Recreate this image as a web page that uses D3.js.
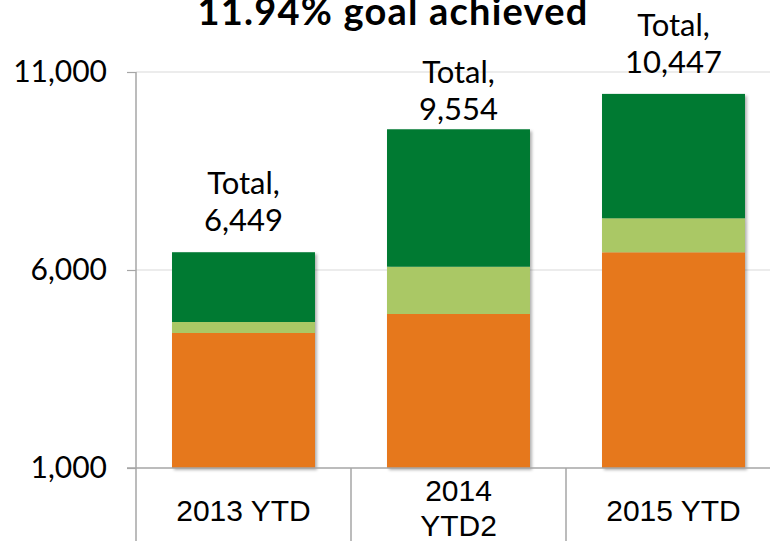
<!DOCTYPE html>
<html>
<head>
<meta charset="utf-8">
<script src="https://cdn.jsdelivr.net/npm/d3@7"></script>
<style>
  body { margin: 0; background: #fff; }
  svg { display: block; }
</style>
</head>
<body>
<div id="chart"></div>
<script>
// chart values
const categories = ["2013 YTD", "2014 YTD2", "2015 YTD"];
const categoryLines = [["2013 YTD"], ["2014", "YTD2"], ["2015 YTD"]];
const seriesNames = ["orange", "lightGreen", "darkGreen"];
const orangeValues = [4409, 4889, 6447];
const lightGreenValues = [278, 1194, 859];
const darkGreenValues = [1762, 3471, 3141];
const totals = [6449, 9554, 10447];
const yTicks = [1000, 6000, 11000];
const title = "11.94% goal achieved";

const colors = { orange: "#e6781f", lightGreen: "#aac865", darkGreen: "#007a33" };

const width = 770, height = 541;
const margin = { top: 72, right: -11, bottom: 73, left: 136 };

const svg = d3.select("#chart").append("svg")
    .attr("width", width)
    .attr("height", height);

// soft shadow like the original bars
const defs = svg.append("defs");
defs.append("filter")
    .attr("id", "shadow")
    .attr("x", "-10%").attr("y", "-10%")
    .attr("width", "130%").attr("height", "130%")
    .append("feDropShadow")
    .attr("dx", 2).attr("dy", 2)
    .attr("stdDeviation", 1.8)
    .attr("flood-color", "#000")
    .attr("flood-opacity", 0.3);

const x = d3.scaleBand()
    .domain(categories)
    .range([margin.left, width - margin.right])
    .paddingInner(0.335)
    .paddingOuter(0.1675);

const y = d3.scaleLinear()
    .domain([1000, 11000])
    .range([height - margin.bottom, margin.top]);

// gridlines
svg.append("g")
    .selectAll("line")
    .data(yTicks.filter(t => t > 1000))
    .enter().append("line")
    .attr("x1", margin.left)
    .attr("x2", width)
    .attr("y1", d => y(d))
    .attr("y2", d => y(d))
    .attr("stroke", "#d9d9d9")
    .attr("stroke-width", 1.2);

// y axis
const yAxis = d3.axisLeft(y)
    .tickValues(yTicks)
    .tickSize(9)
    .tickPadding(20)
    .tickFormat(d3.format(","));

const yg = svg.append("g")
    .attr("transform", "translate(" + margin.left + ",0)")
    .call(yAxis);
yg.select(".domain").remove();
yg.selectAll(".tick line").attr("stroke", "#a6a6a6").attr("stroke-width", 1.2);
yg.selectAll("text")
    .attr("fill", "#000")
    .style("font-family", "Lato, sans-serif")
    .style("font-size", "30px");

// stacked bars
const table = categories.map((c, i) => ({
    category: c,
    orange: orangeValues[i],
    lightGreen: lightGreenValues[i],
    darkGreen: darkGreenValues[i]
}));
const stacked = d3.stack().keys(seriesNames)(table);

const barGroups = svg.append("g")
    .selectAll("g")
    .data(categories)
    .enter().append("g")
    .attr("filter", "url(#shadow)");

barGroups.each(function(cat, i) {
    const g = d3.select(this);
    stacked.forEach(layer => {
        const d = layer[i];
        const y0 = Math.max(d[0], y.domain()[0]);
        g.append("rect")
            .attr("x", x(cat))
            .attr("width", x.bandwidth())
            .attr("y", y(d[1]))
            .attr("height", y(y0) - y(d[1]))
            .attr("fill", colors[layer.key]);
    });
});

// axes lines drawn over bars
svg.append("line")
    .attr("x1", margin.left - 9).attr("x2", width)
    .attr("y1", y(1000)).attr("y2", y(1000))
    .attr("stroke", "#a6a6a6").attr("stroke-width", 1.5);

svg.append("line")
    .attr("x1", margin.left).attr("x2", margin.left)
    .attr("y1", y(11000)).attr("y2", height)
    .attr("stroke", "#a6a6a6").attr("stroke-width", 1.5);

// category separators below the axis
const boundaries = d3.range(1, categories.length + 1)
    .map(i => margin.left + i * x.step());
svg.append("g")
    .selectAll("line")
    .data(boundaries)
    .enter().append("line")
    .attr("x1", d => d).attr("x2", d => d)
    .attr("y1", y(1000)).attr("y2", height)
    .attr("stroke", "#a6a6a6").attr("stroke-width", 1.5);

// category labels
const catLabels = svg.append("g")
    .selectAll("text")
    .data(categories)
    .enter().append("text")
    .attr("x", d => x(d) + x.bandwidth() / 2)
    .attr("y", (d, i) => categoryLines[i].length > 1 ? 501 : 521)
    .attr("text-anchor", "middle")
    .style("font-family", "'Liberation Sans', Arial, sans-serif")
    .style("font-size", "30px")
    .attr("fill", "#000");

catLabels.each(function(d, i) {
    const t = d3.select(this);
    categoryLines[i].forEach((line, j) => {
        t.append("tspan")
            .attr("x", x(d) + x.bandwidth() / 2)
            .attr("dy", j === 0 ? 0 : 35)
            .text(line);
    });
});

// total labels (2014 label sits a little lower in the original)
const labelNudge = { "2014 YTD2": 12 };
const totalLabels = svg.append("g")
    .selectAll("text")
    .data(categories)
    .enter().append("text")
    .attr("text-anchor", "middle")
    .attr("x", d => x(d) + x.bandwidth() / 2)
    .attr("y", (d, i) => y(totals[i]) - 21 + (labelNudge[d] || 0))
    .style("font-family", "Lato, sans-serif")
    .style("font-size", "31px")
    .attr("fill", "#000");

totalLabels.append("tspan")
    .attr("x", d => x(d) + x.bandwidth() / 2)
    .attr("dy", -37)
    .text("Total,");
totalLabels.append("tspan")
    .attr("x", d => x(d) + x.bandwidth() / 2)
    .attr("dy", 37)
    .text((d, i) => d3.format(",")(totals[i]));

// title (cut at the top edge, as in the original)
svg.append("text")
    .attr("x", 393)
    .attr("y", 25)
    .attr("text-anchor", "middle")
    .style("font-family", "Lato, sans-serif")
    .style("font-weight", "bold")
    .style("font-size", "38px")
    .style("letter-spacing", "1.2px")
    .attr("fill", "#000")
    .text(title);
</script>
</body>
</html>
